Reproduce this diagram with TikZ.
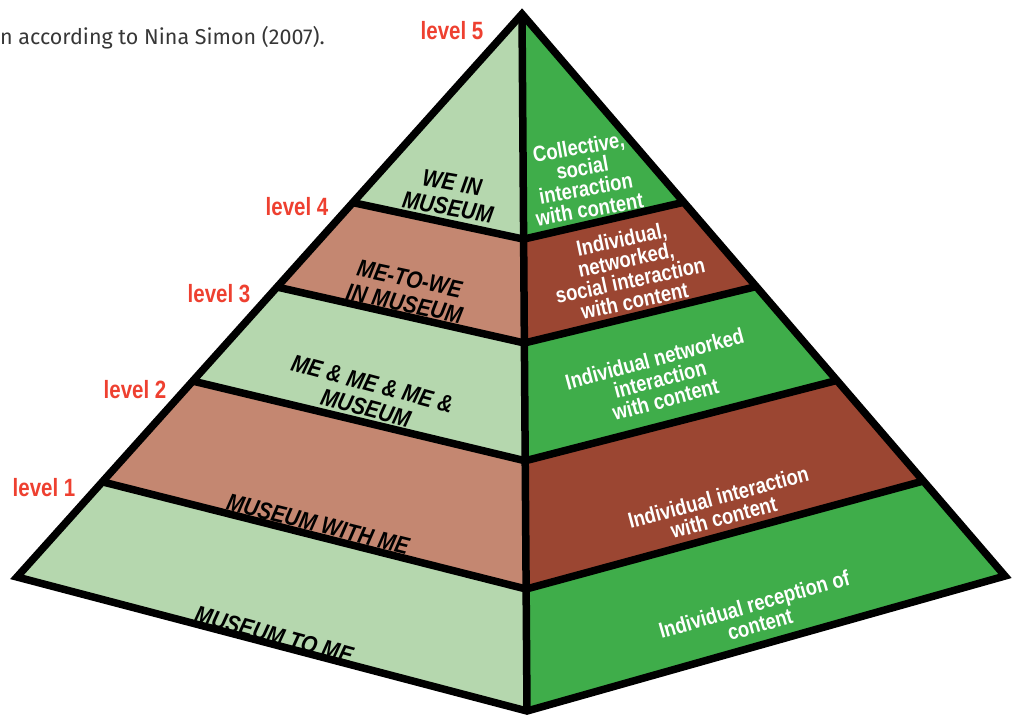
\documentclass[tikz,border=0pt]{standalone}
\usepackage{fontspec}
\usetikzlibrary{calc}
\setmainfont{Liberation Sans}
\newfontfamily\condfont[FakeStretch=0.82]{Liberation Sans}
\newfontfamily\stagefont[FakeStretch=0.86]{Liberation Sans}
\newfontfamily\contentfont[FakeStretch=0.84]{Liberation Sans}
\newfontfamily\capfont{Fira Sans}
\definecolor{palegreen}{RGB}{181,215,174}
\definecolor{paleclay}{RGB}{196,135,113}
\definecolor{deepgreen}{RGB}{63,173,74}
\definecolor{deepclay}{RGB}{155,70,50}
\definecolor{levelred}{RGB}{238,64,48}
\definecolor{captiongray}{RGB}{55,55,55}
\tikzset{
  edge/.style={line width=7.5pt, line join=miter, line cap=butt},
  levellabel/.style={text=levelred, font=\condfont\bfseries\fontsize{25}{25}\selectfont, inner sep=0pt},
  stagetext/.style={text=black, align=center, inner sep=0pt,
    font=\stagefont\bfseries\itshape\fontsize{24}{25}\selectfont},
  contenttext/.style={text=white, align=center, inner sep=0pt,
    font=\contentfont\bfseries\fontsize{22}{21}\selectfont},
}
\begin{document}
\begin{tikzpicture}[x=1pt, y=-1pt]
\useasboundingbox (0,0) rectangle (1016,717);

% corners of the pyramid
\coordinate (A) at (522,14);
\coordinate (L) at (17,577);
\coordinate (B) at (527,711);
\coordinate (R) at (1005,576);

% band boundaries on the left edge, central ridge and right edge
\coordinate (L4) at ($(A)!0.335!(L)$);
\coordinate (L3) at ($(A)!0.485!(L)$);
\coordinate (L2) at ($(A)!0.652!(L)$);
\coordinate (L1) at ($(A)!0.831!(L)$);
\coordinate (C4) at ($(A)!0.323!(B)$);
\coordinate (C3) at ($(A)!0.472!(B)$);
\coordinate (C2) at ($(A)!0.641!(B)$);
\coordinate (C1) at ($(A)!0.825!(B)$);
\coordinate (R4) at ($(A)!0.335!(R)$);
\coordinate (R3) at ($(A)!0.485!(R)$);
\coordinate (R2) at ($(A)!0.652!(R)$);
\coordinate (R1) at ($(A)!0.831!(R)$);

% left face
\fill[palegreen] (A) -- (L4) -- (C4) -- cycle;
\fill[paleclay] (L4) -- (L3) -- (C3) -- (C4) -- cycle;
\fill[palegreen] (L3) -- (L2) -- (C2) -- (C3) -- cycle;
\fill[paleclay] (L2) -- (L1) -- (C1) -- (C2) -- cycle;
\fill[palegreen] (L1) -- (L) -- (B) -- (C1) -- cycle;
% right face
\fill[deepgreen] (A) -- (R4) -- (C4) -- cycle;
\fill[deepclay] (R4) -- (R3) -- (C3) -- (C4) -- cycle;
\fill[deepgreen] (R3) -- (R2) -- (C2) -- (C3) -- cycle;
\fill[deepclay] (R2) -- (R1) -- (C1) -- (C2) -- cycle;
\fill[deepgreen] (R1) -- (R) -- (B) -- (C1) -- cycle;

% band separators
\draw[edge] (L4) -- (C4) -- (R4);
\draw[edge] (L3) -- (C3) -- (R3);
\draw[edge] (L2) -- (C2) -- (R2);
\draw[edge] (L1) -- (C1) -- (R1);
% outline and ridge
\draw[edge] (A) -- (B);
\draw[edge] (A) -- (L) -- (B) -- (R) -- cycle;

% caption
\node[anchor=base east, text=captiongray, inner sep=0pt,
  font=\capfont\fontsize{21.5}{21.5}\selectfont] (caption) at (325,45)
  {n according to Nina Simon (2007).};

% level labels
\node[levellabel] (lv5) at (452,31) {level 5};
\node[levellabel] (lv4) at (297,207) {level 4};
\node[levellabel] (lv3) at (219,294) {level 3};
\node[levellabel] (lv2) at (135,390) {level 2};
\node[levellabel] (lv1) at (44,488) {level 1};

% stages (left face)
\node[stagetext, rotate=-10] (st5) at (450,195) {WE IN\\MUSEUM};
\node[stagetext, rotate=-12] (st4) at (407,291) {ME-TO-WE\\IN MUSEUM};
\node[stagetext, rotate=-15] (st3) at (369,396) {ME \& ME \& ME \&\\MUSEUM};
\node[stagetext, rotate=-14] (st2) at (318,524) {MUSEUM WITH ME};
\node[stagetext, rotate=-15] (st1) at (274,635) {MUSEUM TO ME};

% interaction with content (right face)
\node[contenttext, rotate=10] (ct5) at (584,178) {Collective,\\social\\interaction\\with content};
\node[contenttext, rotate=12] (ct4) at (628,270) {Individual,\\networked,\\social interaction\\with content};
\node[contenttext, rotate=15] (ct3) at (660,379) {Individual networked\\interaction\\with content};
\node[contenttext, rotate=15] (ct2) at (721,507) {Individual interaction\\with content};
\node[contenttext, rotate=16] (ct1) at (757,614) {Individual reception of\\content};
\end{tikzpicture}
\end{document}
